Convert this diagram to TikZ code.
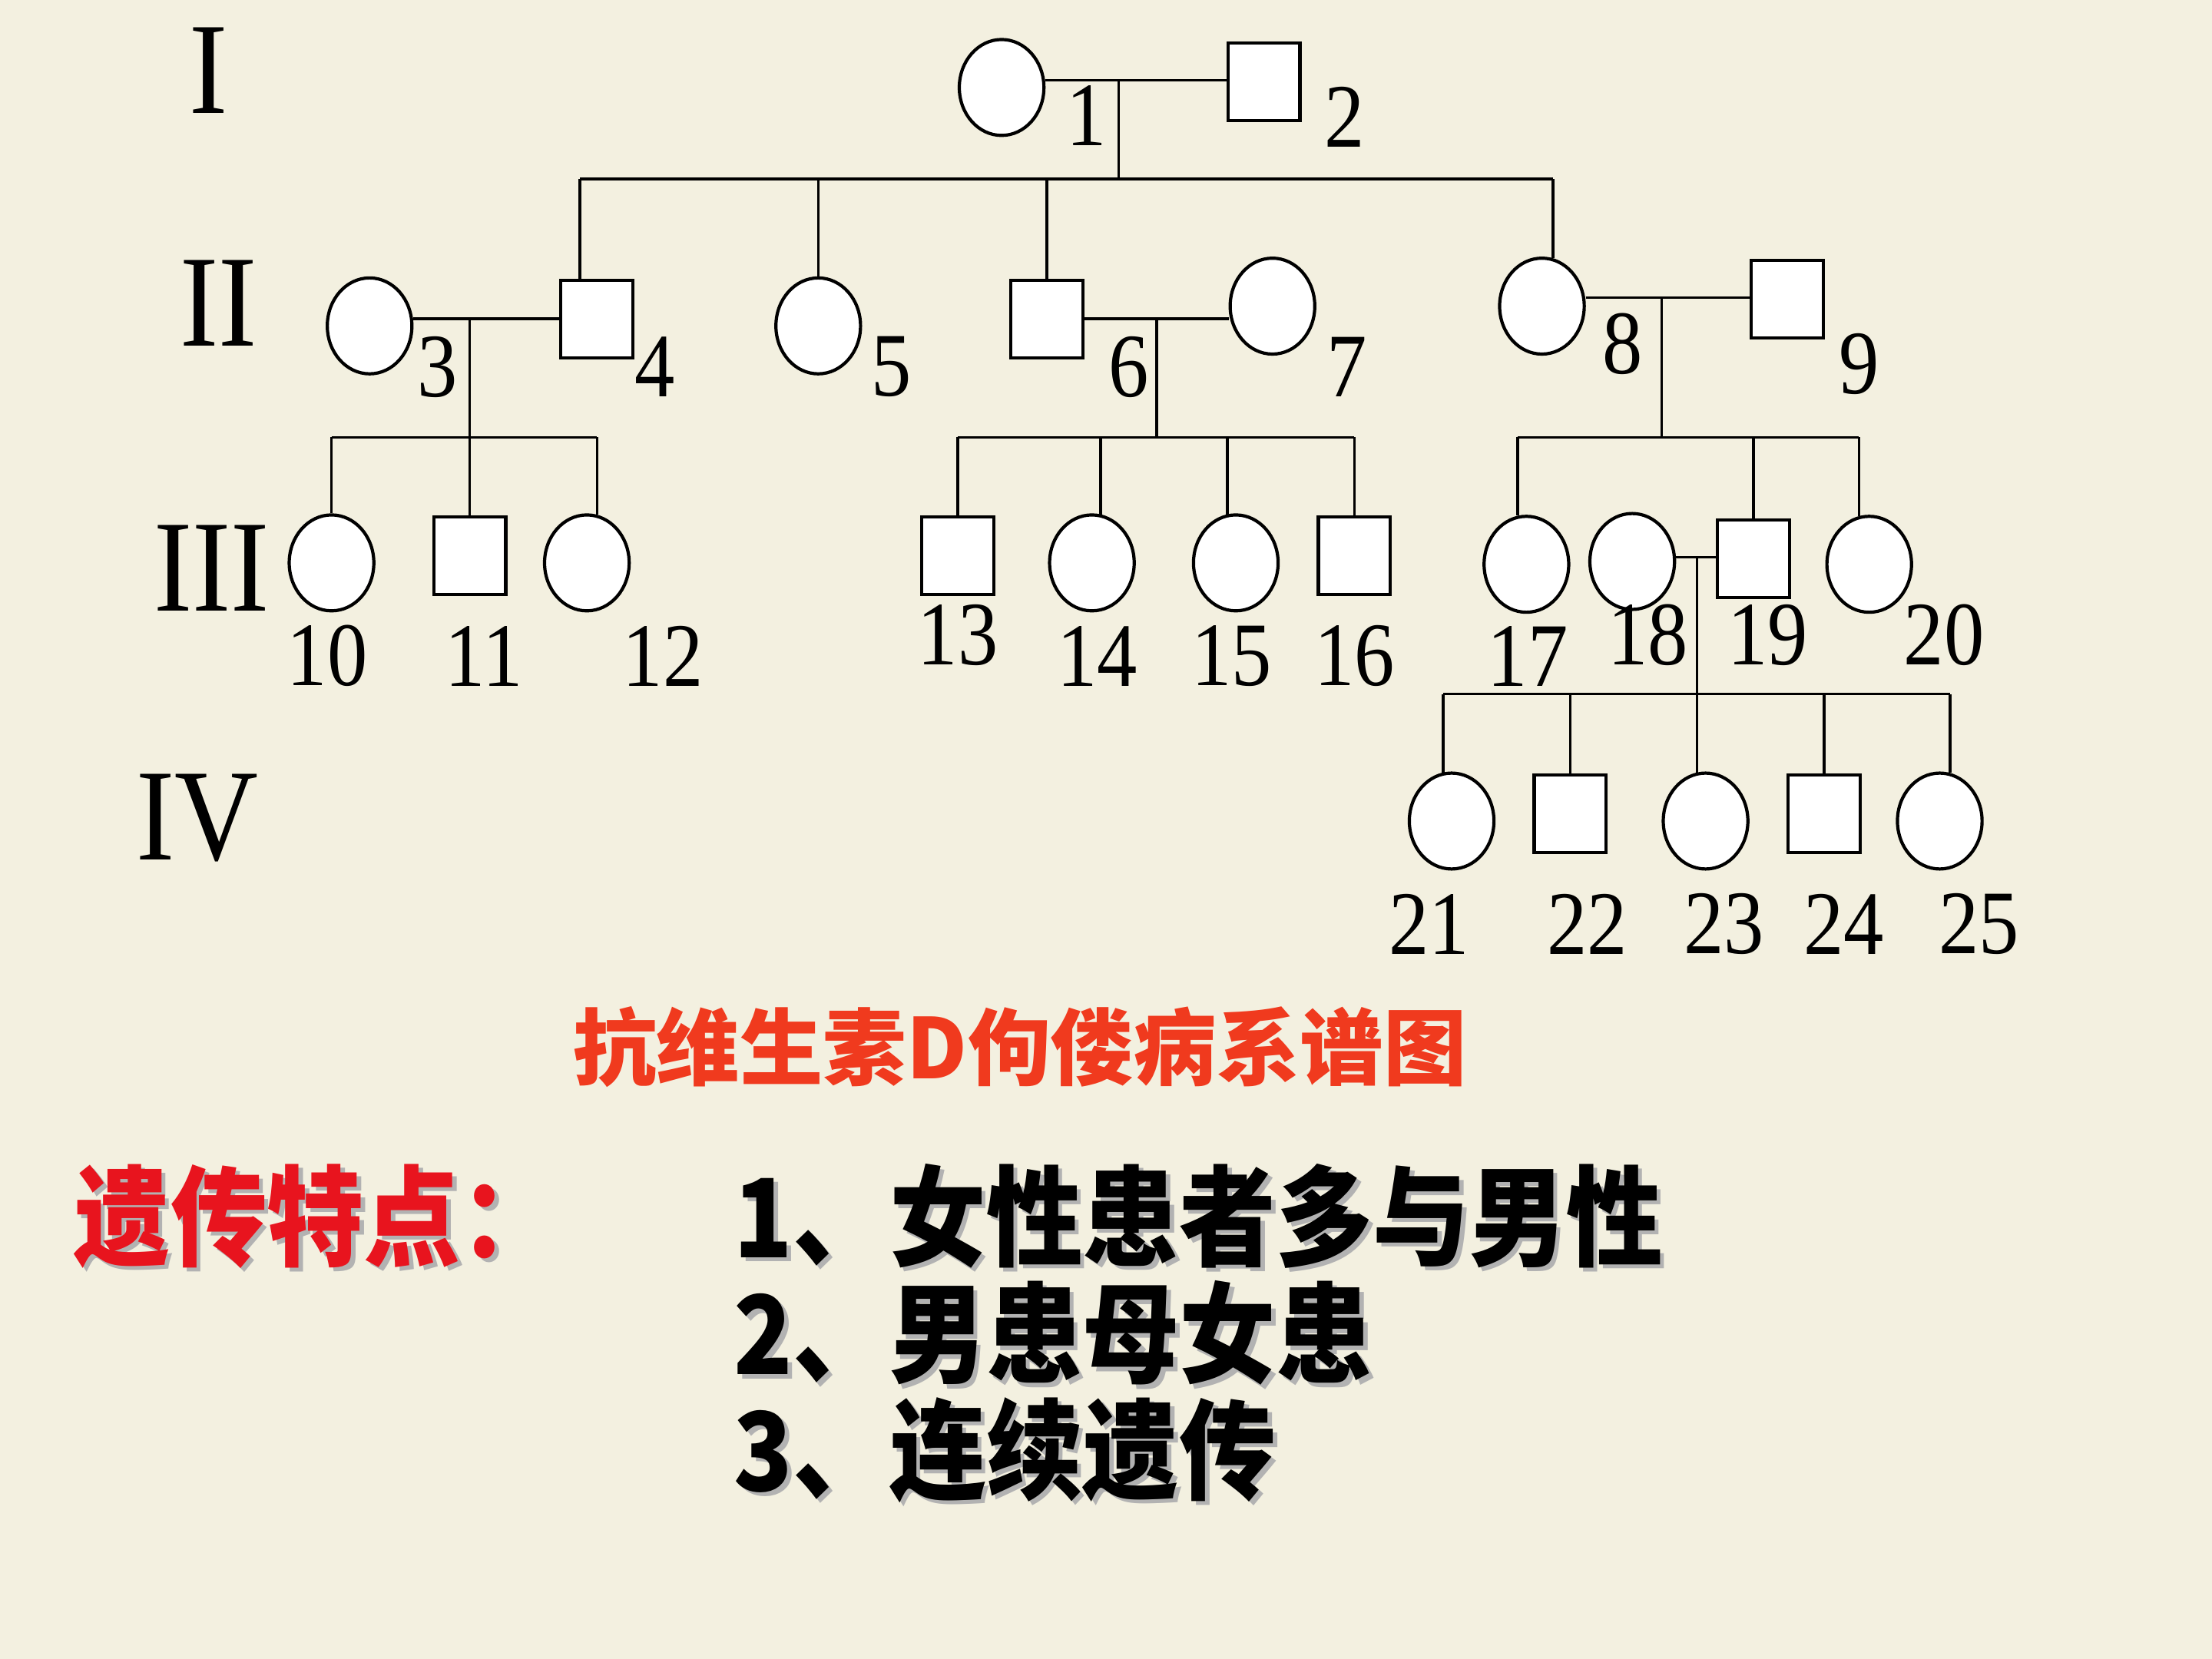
\documentclass[tikz,border=0pt]{standalone}
\usepackage{fontspec}
\setmainfont{Liberation Serif}
\newfontfamily\cjk{Noto Sans CJK SC}
\usetikzlibrary{shapes.geometric,calc}
\definecolor{bgc}{HTML}{F3F0E0}
\definecolor{titlered}{HTML}{F03A1E}
\definecolor{headred}{HTML}{E8141E}
\newcommand\vstretch[1]{\scalebox{1}[1.13]{#1}}
\tikzset{
  fem/.style={ellipse, draw, line width=1.3pt, fill=white, minimum width=1.2cm, minimum height=1.36cm, inner sep=0pt},
  mal/.style={rectangle, draw, line width=1.3pt, fill=white, minimum width=1.02cm, minimum height=1.1cm, inner sep=0pt},
  num/.style={inner sep=0pt, font=\fontsize{32.4}{34}\selectfont},
  gen/.style={inner sep=0pt, font=\fontsize{46.7}{50}\selectfont},
  link/.style={line width=1.1pt},
  cjktext/.style={inner sep=0pt, anchor=west, font=\cjk\bfseries\fontsize{39}{42}\selectfont},
  shadowtext/.style={cjktext, text=black!30},
}
\begin{document}
\begin{tikzpicture}[x=0.02cm, y=-0.02cm]
\useasboundingbox (0,0) rectangle (1568,1176);
\fill[bgc] (0,0) rectangle (1568,1176);

% generation numerals
\node[gen] (gI)   at (148,50)  {\vstretch{I}};
\node[gen] (gII)  at (155,215) {\vstretch{II}};
\node[gen] (gIII) at (150,403) {\vstretch{III}};
\node[gen] (gIV)  at (140,580) {\vstretch{IV}};

% individuals
\node[fem] (c1) at (710,62) {};
\node[mal] (s2) at (896,58) {};

\node[fem] (c3) at (262,231) {};
\node[mal] (s4) at (423,226) {};
\node[fem] (c5) at (580,231) {};
\node[mal] (s6) at (742,226) {};
\node[fem] (c7) at (902,217) {};
\node[fem] (c8) at (1093,217) {};
\node[mal] (s9) at (1267,212) {};

\node[fem] (c10) at (235,399) {};
\node[mal] (s11) at (333,394) {};
\node[fem] (c12) at (416,399) {};
\node[mal] (s13) at (679,394) {};
\node[fem] (c14) at (774,399) {};
\node[fem] (c15) at (876,399) {};
\node[mal] (s16) at (960,394) {};
\node[fem] (c17) at (1082,400) {};
\node[fem] (c18) at (1157,398) {};
\node[mal] (s19) at (1243,396) {};
\node[fem] (c20) at (1325,400) {};

\node[fem] (c21) at (1029,582) {};
\node[mal] (s22) at (1113,577) {};
\node[fem] (c23) at (1209,582) {};
\node[mal] (s24) at (1293,577) {};
\node[fem] (c25) at (1375,582) {};

% labels
\node[num] (l1) at (770,82) {\vstretch{1}};
\node[num] (l2) at (953,83) {\vstretch{2}};
\node[num] (l3) at (310,260) {\vstretch{3}};
\node[num] (l4) at (464,260) {\vstretch{4}};
\node[num] (l5) at (632,260) {\vstretch{5}};
\node[num] (l6) at (800,260) {\vstretch{6}};
\node[num] (l7) at (955,260) {\vstretch{7}};
\node[num] (l8) at (1150,244) {\vstretch{8}};
\node[num] (l9) at (1318,258) {\vstretch{9}};
\node[num] (l10) at (232,465) {\vstretch{10}};
\node[num] (l11) at (343,465) {\vstretch{11}};
\node[num] (l12) at (470,465) {\vstretch{12}};
\node[num] (l13) at (679,450) {\vstretch{13}};
\node[num] (l14) at (778,465) {\vstretch{14}};
\node[num] (l15) at (873,465) {\vstretch{15}};
\node[num] (l16) at (960,465) {\vstretch{16}};
\node[num] (l17) at (1083,465) {\vstretch{17}};
\node[num] (l18) at (1168,450) {\vstretch{18}};
\node[num] (l19) at (1253,450) {\vstretch{19}};
\node[num] (l20) at (1378,450) {\vstretch{20}};
\node[num] (l21) at (1013,655) {\vstretch{21}};
\node[num] (l22) at (1125,655) {\vstretch{22}};
\node[num] (l23) at (1222,655) {\vstretch{23}};
\node[num] (l24) at (1307,655) {\vstretch{24}};
\node[num] (l25) at (1403,655) {\vstretch{25}};

% junction coordinates
\coordinate (m12) at (793,57);
\coordinate (b2) at (793,127);
\coordinate (d4) at ([xshift=-0.24cm]s4.north);
\coordinate (m34) at (333,226);
\coordinate (b3) at (333,310);
\coordinate (m67) at (820,226);
\coordinate (b6) at (820,310);
\coordinate (m89) at (1178,211);
\coordinate (b8) at (1178,310);
\coordinate (m1819) at (1203,395);
\coordinate (b18) at (1203,492);

% generation I -> II
\draw[link] (c1.east |- m12) -- (s2.west |- m12);
\draw[link] (m12) -- (b2);
\draw[link] (d4 |- b2) -- (c8.77 |- b2);
\draw[link] (d4 |- b2) -- (d4);
\draw[link] (c5.north |- b2) -- (c5.north);
\draw[link] (s6.north |- b2) -- (s6.north);
\draw[link] (c8.77 |- b2) -- (c8.77);

% 3 x 4
\draw[link] (c3.east |- m34) -- (s4.west |- m34);
\draw[link] (m34) -- (b3);
\draw[link] (c10.north |- b3) -- (c12.78 |- b3);
\draw[link] (c10.north |- b3) -- (c10.north);
\draw[link] (s11.north |- b3) -- (s11.north);
\draw[link] (c12.78 |- b3) -- (c12.78);

% 6 x 7
\draw[link] (s6.east |- m67) -- (c7.west |- m67);
\draw[link] (m67) -- (b6);
\draw[link] (s13.north |- b6) -- (s16.north |- b6);
\draw[link] (s13.north |- b6) -- (s13.north);
\draw[link] (c14.80 |- b6) -- (c14.80);
\draw[link] (c15.100 |- b6) -- (c15.100);
\draw[link] (s16.north |- b6) -- (s16.north);

% 8 x 9
\draw[link] (c8.east |- m89) -- (s9.west |- m89);
\draw[link] (m89) -- (b8);
\draw[link] (c17.100 |- b8) -- (c20.102 |- b8);
\draw[link] (c17.100 |- b8) -- (c17.100);
\draw[link] (s19.north |- b8) -- (s19.north);
\draw[link] (c20.102 |- b8) -- (c20.102);

% 18 x 19
\draw[link] (c18.east |- m1819) -- (s19.west |- m1819);
\draw[link] (m1819) -- (b18);
\draw[link] (c21.100 |- b18) -- (c25.78 |- b18);
\draw[link] (c21.100 |- b18) -- (c21.100);
\draw[link] (s22.north |- b18) -- (s22.north);
\draw[link] (c23.100 |- b18) -- (c23.100);
\draw[link] (s24.north |- b18) -- (s24.north);
\draw[link] (c25.78 |- b18) -- (c25.78);

% title
\node[inner sep=0pt, text=titlered, font=\cjk\bfseries\fontsize{33.6}{36}\selectfont] (title) at (723,742) {抗维生素D佝偻病系谱图};

% heading and list with shadows
\node[shadowtext] (hsh) at (55,865) {\vstretch{遗传特点：}};
\node[cjktext, text=headred] (head) at (52,862) {\vstretch{遗传特点：}};

\node[shadowtext] (sh1) at (523,865) {\vstretch{1、女性患者多与男性}};
\node[cjktext] (it1) at (520,862) {\vstretch{1、女性患者多与男性}};
\node[shadowtext] (sh2) at (523,948) {\vstretch{2、男患母女患}};
\node[cjktext] (it2) at (520,945) {\vstretch{2、男患母女患}};
\node[shadowtext] (sh3) at (523,1031) {\vstretch{3、连续遗传}};
\node[cjktext] (it3) at (520,1028) {\vstretch{3、连续遗传}};
\end{tikzpicture}
\end{document}
